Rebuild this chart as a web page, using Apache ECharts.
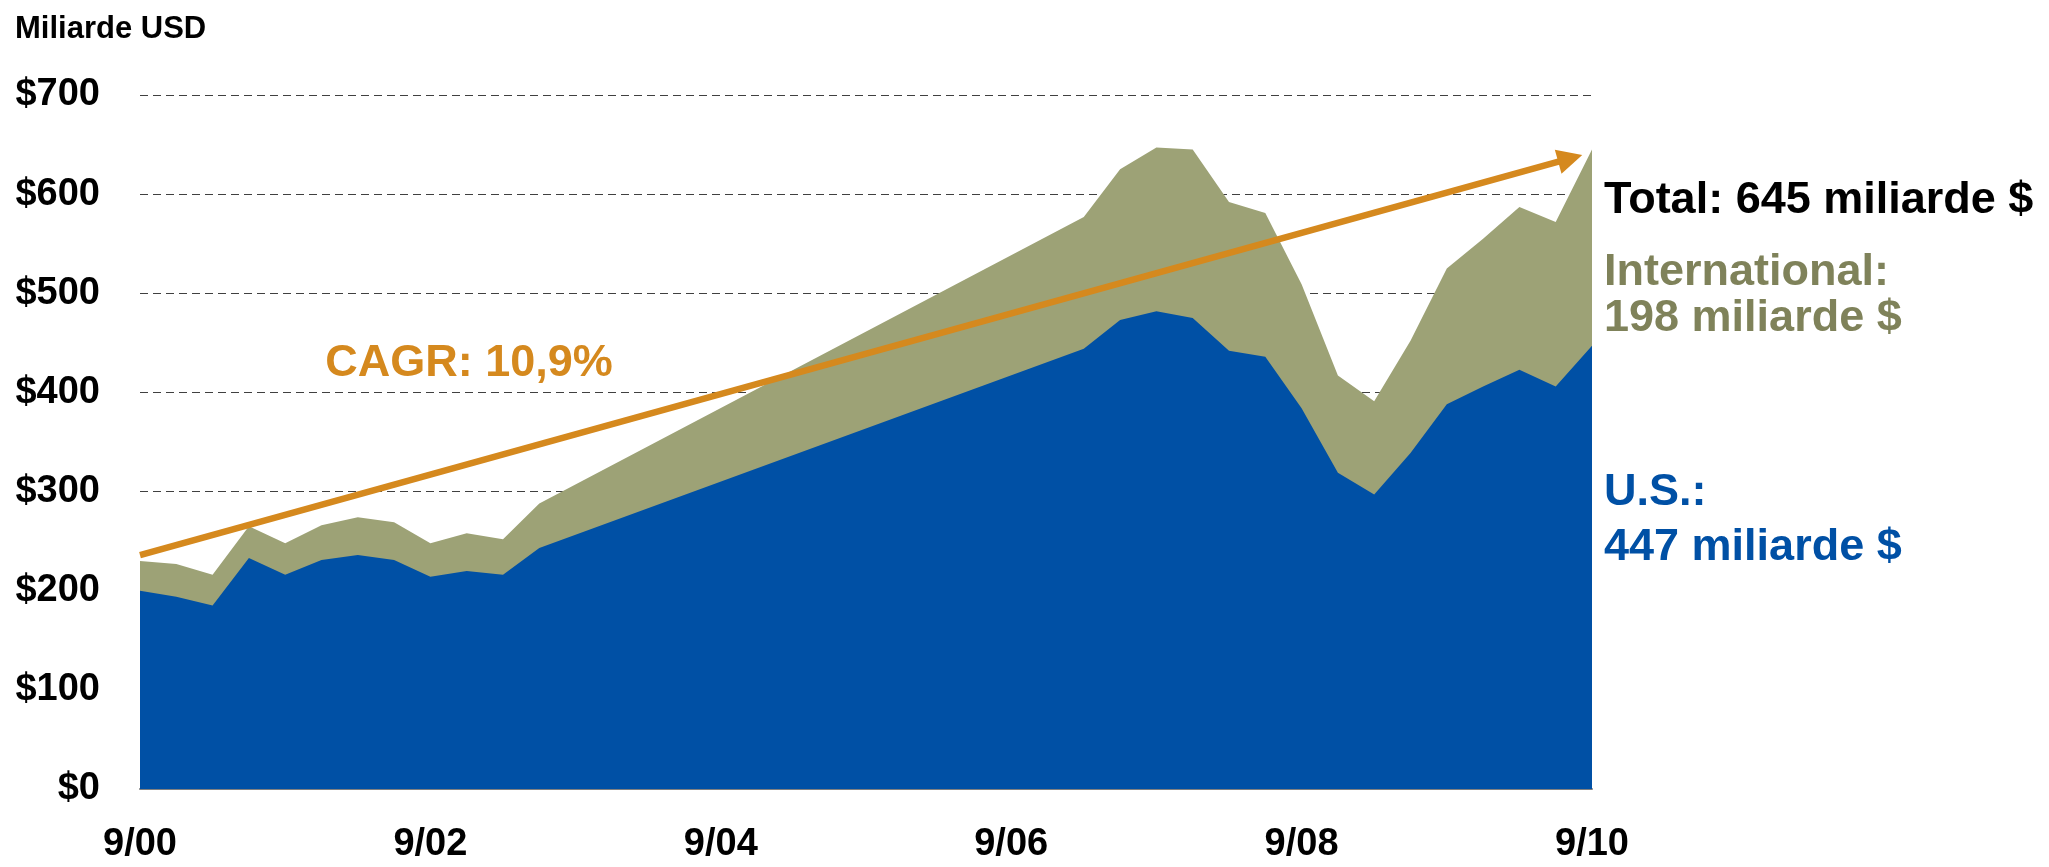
<!DOCTYPE html>
<html>
<head>
<meta charset="utf-8">
<script src="https://cdn.jsdelivr.net/npm/echarts@6/dist/echarts.min.js"></script>
<style>
html,body{margin:0;padding:0;background:#ffffff;}
#chart{width:2049px;height:867px;}
</style>
</head>
<body>
<div id="chart"></div>
<script>
// Quarterly categories, 9/00 .. 9/10
const categories = [
  '9/00','12/00','3/01','6/01','9/01','12/01','3/02','6/02','9/02','12/02',
  '3/03','6/03','9/03','12/03','3/04','6/04','9/04','12/04','3/05','6/05',
  '9/05','12/05','3/06','6/06','9/06','12/06','3/07','6/07','9/07','12/07',
  '3/08','6/08','9/08','12/08','3/09','6/09','9/09','12/09','3/10','6/10','9/10'
];
const xTickLabels = ['9/00','9/02','9/04','9/06','9/08','9/10'];
const yTickValues = [0, 100, 200, 300, 400, 500, 600, 700];

// U.S. (billion USD); gap 9/03 - 12/06 has no data points
const usValues = [
  200, 194, 185, 233, 216, 231, 236, 231, 214, 220, 216, 243,
  null, null, null, null, null, null, null, null, null, null, null, null, null, null,
  444, 473, 482, 475, 442, 436, 384, 319, 297, 339, 388, 406, 423, 406, 447
];
// International (billion USD)
const intlValues = [
  30, 33, 31, 32, 32, 35, 38, 38, 34, 38, 36, 45,
  null, null, null, null, null, null, null, null, null, null, null, null, null, null,
  133, 152, 165, 170, 150, 145, 125, 98, 94, 113, 137, 149, 164, 166, 198
];
// CAGR trend arrow: [quarter index, value] at start and end
const cagrStart = [0, 236];
const cagrEnd = [39.4, 636];
const cagrText = 'CAGR: 10,9%';
const unitText = 'Miliarde USD';

const totalValues = usValues.map((v, i) => (v == null ? null : v + intlValues[i]));
const last = categories.length - 1;

const BLUE = '#0050A5';
const GREEN = '#9DA276';
const OLIVE = '#7F825A';
const ORANGE = '#D5891E';
const NARROW = "'Liberation Sans Narrow','Arial Narrow','Liberation Sans',Arial,sans-serif";
const SANS = "'Liberation Sans',Arial,Helvetica,sans-serif";

const chart = echarts.init(document.getElementById('chart'), null, {renderer: 'canvas'});

chart.setOption({
  animation: false,
  backgroundColor: '#ffffff',
  grid: {left: 140, right: 457, top: 95, bottom: 78, containLabel: false},
  xAxis: [
    {
      type: 'category',
      data: categories,
      boundaryGap: false,
      axisLine: {show: true, lineStyle: {color: '#808080', width: 2}},
      axisTick: {show: false},
      splitLine: {show: false},
      axisLabel: {
        interval: 0,
        margin: 37,
        color: '#000',
        fontFamily: NARROW,
        fontWeight: 'bold',
        fontSize: 38,
        formatter: (v) => (xTickLabels.indexOf(v) >= 0 ? v : '')
      }
    },
    {type: 'value', min: 0, max: last, show: false}
  ],
  yAxis: {
    type: 'value',
    min: yTickValues[0],
    max: yTickValues[yTickValues.length - 1],
    interval: 100,
    axisLine: {show: false},
    axisTick: {show: false},
    axisLabel: {
      margin: 40,
      color: '#000',
      fontFamily: NARROW,
      fontWeight: 'bold',
      fontSize: 38,
      formatter: (v) => '$' + v
    },
    splitLine: {show: true, lineStyle: {color: '#404040', width: 1, type: [8, 5]}}
  },
  series: [
    {
      name: 'International',
      type: 'line',
      data: totalValues,
      connectNulls: true,
      showSymbol: false,
      symbol: 'none',
      lineStyle: {width: 0, color: GREEN},
      areaStyle: {color: GREEN, opacity: 1},
      z: 2
    },
    {
      name: 'U.S.',
      type: 'line',
      data: usValues,
      connectNulls: true,
      showSymbol: false,
      symbol: 'none',
      lineStyle: {width: 0, color: BLUE},
      areaStyle: {color: BLUE, opacity: 1},
      z: 3
    },
    {
      name: 'CAGR',
      type: 'line',
      xAxisIndex: 1,
      data: [],
      z: 5,
      markLine: {
        silent: true,
        z: 5,
        symbol: ['none', 'triangle'],
        symbolSize: 25,
        label: {show: false},
        lineStyle: {color: ORANGE, width: 6.5, type: 'solid', cap: 'butt'},
        itemStyle: {color: ORANGE},
        data: [[{coord: cagrStart}, {coord: cagrEnd}]]
      }
    }
  ],
  graphic: [
    {type: 'text', x: 15, y: 29, style: {text: unitText, font: 'bold 31px ' + NARROW, fill: '#000', textVerticalAlign: 'middle'}},
    {type: 'text', x: 469, y: 364, style: {text: cagrText, font: 'bold 45px ' + SANS, fill: ORANGE, textAlign: 'center', textVerticalAlign: 'middle'}},
    {type: 'text', x: 1604, y: 201, style: {text: 'Total: ' + totalValues[last] + ' miliarde $', font: 'bold 45px ' + SANS, fill: '#000', textVerticalAlign: 'middle'}},
    {type: 'text', x: 1604, y: 273, style: {text: 'International:', font: 'bold 45px ' + SANS, fill: OLIVE, textVerticalAlign: 'middle'}},
    {type: 'text', x: 1604, y: 319, style: {text: intlValues[last] + ' miliarde $', font: 'bold 45px ' + SANS, fill: OLIVE, textVerticalAlign: 'middle'}},
    {type: 'text', x: 1604, y: 493, style: {text: 'U.S.:', font: 'bold 45px ' + SANS, fill: BLUE, textVerticalAlign: 'middle'}},
    {type: 'text', x: 1604, y: 548, style: {text: usValues[last] + ' miliarde $', font: 'bold 45px ' + SANS, fill: BLUE, textVerticalAlign: 'middle'}}
  ]
});
</script>
</body>
</html>
